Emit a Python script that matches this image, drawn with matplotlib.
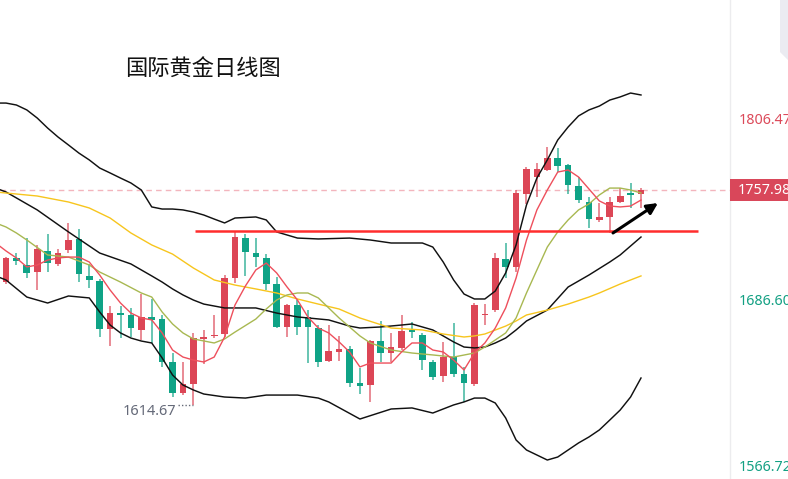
import matplotlib
matplotlib.use("Agg")
import matplotlib.pyplot as plt
from matplotlib.patches import Rectangle, Polygon
import numpy as np

# ---- daily OHLC (gold, USD/oz) ----
opens = [1696.84, 1712.88, 1708.20, 1703.53, 1717.56, 1708.87, 1718.22, 1725.57, 1700.85, 1697.51,
         1665.44, 1676.13, 1674.80, 1664.77, 1673.46, 1672.12, 1643.39, 1622.68, 1628.69, 1659.09,
         1660.76, 1662.10, 1699.52, 1726.24, 1716.22, 1712.88, 1695.51, 1666.78, 1681.48, 1673.46,
         1666.11, 1644.06, 1650.07, 1652.08, 1629.36, 1628.03, 1657.42, 1649.41, 1652.75, 1664.77,
         1661.43, 1643.39, 1634.04, 1646.73, 1635.38, 1628.69, 1674.80, 1678.14, 1712.21, 1706.87,
         1755.64, 1767.00, 1771.68, 1779.69, 1775.02, 1760.99, 1750.30, 1738.27, 1740.27, 1750.30,
         1756.31, 1755.64]
highs = [1713.55, 1716.22, 1726.24, 1721.57, 1728.91, 1718.89, 1736.27, 1732.26, 1708.87, 1698.85,
         1680.81, 1680.81, 1679.47, 1688.83, 1685.49, 1674.80, 1649.41, 1643.39, 1662.77, 1664.77,
         1674.80, 1701.52, 1730.92, 1728.91, 1726.24, 1715.55, 1700.19, 1682.15, 1684.82, 1678.14,
         1668.11, 1668.11, 1660.76, 1654.08, 1639.38, 1658.09, 1670.79, 1662.77, 1674.80, 1670.12,
         1662.77, 1644.73, 1656.76, 1669.45, 1640.05, 1682.81, 1682.15, 1716.22, 1722.90, 1758.31,
         1773.68, 1776.35, 1787.04, 1786.38, 1775.69, 1767.00, 1753.64, 1749.63, 1753.64, 1759.65,
         1762.99, 1759.65]
lows = [1695.51, 1708.20, 1699.52, 1691.50, 1703.53, 1707.53, 1716.22, 1696.84, 1692.84, 1660.10,
        1654.08, 1659.43, 1660.10, 1658.09, 1656.09, 1640.05, 1620.01, 1621.34, 1614.67, 1642.06,
        1659.43, 1660.10, 1696.18, 1700.85, 1706.87, 1691.50, 1666.11, 1660.10, 1661.43, 1642.73,
        1640.05, 1643.39, 1644.06, 1626.69, 1622.01, 1616.67, 1643.39, 1643.39, 1651.41, 1659.43,
        1638.05, 1631.37, 1630.03, 1633.37, 1616.67, 1627.36, 1668.11, 1676.80, 1699.52, 1703.53,
        1748.96, 1753.64, 1771.01, 1770.34, 1755.64, 1749.63, 1732.92, 1736.93, 1729.58, 1749.63,
        1746.29, 1746.29]
closes = [1712.88, 1710.88, 1702.86, 1718.89, 1709.54, 1716.22, 1724.91, 1702.19, 1698.18, 1665.44,
          1676.13, 1674.80, 1666.11, 1673.46, 1671.46, 1643.39, 1622.68, 1628.69, 1659.43, 1659.76,
          1661.43, 1699.52, 1726.91, 1716.89, 1713.55, 1695.51, 1666.78, 1681.48, 1666.78, 1666.78,
          1643.39, 1650.74, 1652.08, 1629.36, 1627.36, 1657.42, 1649.41, 1653.42, 1664.11, 1663.44,
          1644.73, 1633.37, 1646.73, 1635.38, 1629.36, 1681.48, 1675.46, 1712.88, 1706.87, 1756.31,
          1772.34, 1772.34, 1779.69, 1774.35, 1761.65, 1751.63, 1738.94, 1740.27, 1750.30, 1754.30,
          1754.97, 1757.98]

# ---- indicator lines (bar index -> price) ----
boll_up_x = [-1, 0, 1, 2, 3, 4, 5, 6, 7, 8, 9, 10, 11, 12, 13, 14, 15, 16, 17, 18, 19, 20, 21, 22, 24, 25,
             26, 28, 30, 33, 35, 37, 40, 41, 42, 43, 44, 45, 46, 47, 48, 49, 50, 51, 52, 53, 54, 55, 56,
             57, 58, 59, 60, 61]
boll_up_y = [1816.4, 1816.4, 1815.1, 1811.8, 1806.4, 1799.7, 1793.7, 1788.4, 1783.0, 1778.4, 1773.0,
             1769.7, 1766.3, 1763.0, 1758.3, 1747.0, 1745.6, 1745.6, 1745.0, 1743.6, 1741.6, 1738.9,
             1736.3, 1739.6, 1740.3, 1738.3, 1730.3, 1726.2, 1725.6, 1726.2, 1724.9, 1722.9, 1722.9,
             1720.2, 1710.2, 1698.2, 1688.8, 1685.5, 1685.5, 1690.8, 1702.9, 1721.6, 1748.3, 1766.3,
             1778.4, 1791.7, 1800.4, 1807.8, 1811.8, 1814.4, 1818.4, 1820.5, 1823.1, 1821.8]

boll_mid_x = [-1, 0, 2, 3, 6, 9, 12, 14, 15, 16, 17, 18, 19, 20, 21, 24, 26, 28, 31, 33, 34, 36, 38, 39,
              41, 43, 44, 45, 46, 47, 48, 49, 50, 52, 54, 56, 58, 59, 61]
boll_mid_y = [1759.6, 1757.0, 1749.0, 1745.0, 1730.3, 1716.2, 1708.9, 1700.9, 1696.8, 1692.2, 1688.2,
              1684.8, 1682.1, 1680.8, 1679.5, 1679.5, 1676.1, 1673.5, 1671.5, 1667.4, 1666.1, 1666.8,
              1668.1, 1668.8, 1664.8, 1656.8, 1653.4, 1652.8, 1653.4, 1656.1, 1659.4, 1664.8, 1670.8,
              1678.1, 1693.5, 1701.5, 1710.2, 1714.9, 1726.9]

boll_low_x = [-1, 0, 2, 4, 6, 8, 9, 10, 11, 12, 13, 14, 15, 16, 17, 18, 19, 21, 23, 25, 28, 30, 31, 34,
              37, 39, 41, 43, 44, 45, 46, 47, 48, 49, 50, 52, 53, 54, 55, 56, 57, 58, 59, 60, 61]
boll_low_y = [1700.9, 1698.2, 1686.8, 1682.8, 1687.5, 1686.2, 1676.8, 1668.1, 1662.8, 1659.4, 1657.4,
              1656.1, 1646.1, 1634.7, 1628.0, 1624.7, 1622.0, 1620.0, 1619.3, 1621.3, 1621.3, 1619.3,
              1616.7, 1605.3, 1612.0, 1612.7, 1609.3, 1614.7, 1616.7, 1619.3, 1619.3, 1616.0, 1606.0,
              1591.3, 1584.6, 1577.9, 1579.9, 1584.6, 1589.3, 1593.3, 1598.0, 1604.6, 1611.3, 1620.0,
              1632.7]

ma5_x = list(range(-1, 62))
ma5_y = [1722.9, 1717.6, 1712.9, 1706.9, 1708.2, 1711.5, 1712.9, 1713.5, 1713.5, 1710.2, 1701.5,
         1691.5, 1682.8, 1676.1, 1672.8, 1671.5, 1662.8, 1651.4, 1646.7, 1644.7, 1643.4, 1646.7,
         1660.1, 1681.5, 1694.2, 1704.9, 1709.5, 1702.9, 1693.5, 1684.8, 1673.5, 1666.1, 1662.8,
         1656.8, 1650.1, 1640.1, 1642.7, 1642.7, 1642.7, 1650.1, 1656.1, 1656.1, 1651.4, 1650.1,
         1644.7, 1638.1, 1649.4, 1656.1, 1666.1, 1679.5, 1699.5, 1724.9, 1745.0, 1758.3, 1770.3,
         1771.7, 1767.0, 1759.0, 1751.0, 1747.6, 1747.0, 1747.6, 1751.6]

ma10_x = [-1, 0, 1, 2, 4, 6, 8, 9, 11, 13, 14, 15, 16, 17, 18, 20, 21, 22, 24, 25, 26, 27, 28, 29, 30,
          31, 32, 33, 34, 35, 37, 39, 41, 43, 45, 46, 47, 48, 49, 50, 51, 52, 53, 54, 55, 56, 57, 58,
          59, 60, 61]
ma10_y = [1736.3, 1733.6, 1729.6, 1724.9, 1714.9, 1713.5, 1708.2, 1703.5, 1696.8, 1689.5, 1686.8,
          1676.8, 1668.8, 1662.8, 1658.8, 1656.1, 1658.8, 1663.4, 1672.1, 1678.8, 1684.8, 1688.2,
          1689.5, 1689.5, 1686.2, 1679.5, 1672.8, 1666.8, 1660.8, 1656.1, 1651.4, 1649.4, 1648.1,
          1646.7, 1649.4, 1653.4, 1658.1, 1662.8, 1672.8, 1689.5, 1704.9, 1720.2, 1730.3, 1738.3,
          1745.0, 1749.0, 1755.0, 1759.6, 1759.6, 1758.3, 1756.3]

ma30_x = [-1, 0, 3, 6, 8, 10, 12, 14, 16, 18, 20, 22, 24, 26, 28, 30, 32, 34, 37, 40, 42, 44, 45, 46,
          48, 49, 50, 52, 54, 56, 57, 59, 61]
ma30_y = [1757.0, 1756.3, 1754.3, 1750.3, 1746.3, 1739.6, 1729.6, 1721.6, 1715.5, 1706.2, 1698.2,
          1694.8, 1692.2, 1689.5, 1685.5, 1682.1, 1678.8, 1672.8, 1666.1, 1664.8, 1662.1, 1660.1,
          1660.8, 1662.1, 1667.4, 1670.8, 1674.8, 1678.1, 1682.1, 1686.8, 1689.5, 1695.5, 1700.9]

# ---- annotations ----
resistance = 1730.92
resistance_span = (18.16, 66.47)
trend_arrow = ((58.31, 1729.6), (62.63, 1749.6))
period_low = 1614.67
last_close = closes[-1]
axis_marks = [("1806.47", 1806.47, "#dc4a5a", -3), ("1686.60", 1686.60, "#13a083", -4),
              ("1566.72", 1566.72, "#13a083", 9)]

UP = "#dc4656"
DOWN = "#0fa386"

W, H = 788, 479
fig = plt.figure(figsize=(W / 100, H / 100), dpi=100)
fig.patch.set_facecolor("white")
ax = fig.add_axes([0, 0, 730 / W, 1])
ax.set_xlim(-0.576, 69.55)
ax.set_ylim(1565.22, 1885.26)
ax.set_xticks([])
ax.set_yticks([])
for s in ("top", "left", "bottom"):
    ax.spines[s].set_visible(False)
ax.spines["right"].set_color("#ececee")
ax.spines["right"].set_linewidth(1)

idx = np.arange(len(opens))
o = np.array(opens); c = np.array(closes); h = np.array(highs); l = np.array(lows)
up = c >= o
colors = np.where(up, UP, DOWN)

# wicks
ax.vlines(idx, l, h, colors=colors, linewidth=1.1, alpha=0.8, zorder=2)
# bodies
body = np.maximum(np.abs(c - o), 0.9)
ax.bar(idx, body, bottom=np.minimum(o, c), width=0.64, color=colors, linewidth=0, zorder=3)

# Bollinger bands and moving averages
ax.plot(boll_up_x, boll_up_y, color="#111111", lw=1.05, zorder=4)
ax.plot(boll_mid_x, boll_mid_y, color="#111111", lw=1.05, zorder=4)
ax.plot(boll_low_x, boll_low_y, color="#111111", lw=1.05, zorder=4)
ax.plot(ma30_x, ma30_y, color="#f7c51d", lw=1.0, zorder=4)
ax.plot(ma10_x, ma10_y, color="#a8b851", lw=1.0, zorder=4)
ax.plot(ma5_x, ma5_y, color="#ee4f5c", lw=1.0, zorder=5)

# last price line
ax.axhline(last_close, color="#f3b5bd", lw=1.0, ls=(0, (4, 3)), zorder=1)

# resistance line
ax.hlines(resistance, *resistance_span, color="#ff2d2d", lw=1.8, zorder=6)

# trend arrow
ax.annotate("", xy=trend_arrow[1], xytext=trend_arrow[0],
            arrowprops=dict(arrowstyle="-|>", color="black", lw=2.2, mutation_scale=16,
                            shrinkA=0, shrinkB=0), zorder=7)

# period low marker
low_i = int(np.argmin(l))
ax.hlines(period_low, low_i - 1.5, low_i - 0.05, color="#666b78", lw=1.0, ls=(0, (1, 1.5)), zorder=6)
ax.annotate(f"{period_low:.2f}", xy=(low_i - 1.5, period_low), xytext=(-1, -7),
            textcoords="offset pixels", ha="right", va="center", fontsize=10.5,
            color="#656a79", family=["Noto Sans", "DejaVu Sans"])

# title
ax.text(125 / 730, 1 - 69 / H, "国际黄金日线图", transform=ax.transAxes, ha="left", va="center",
        fontsize=16, color="#111111", family=["Noto Sans CJK SC", "DejaVu Sans"])

# right price scale
ytrans = ax.get_yaxis_transform()
for txt, val, col, dy in axis_marks:
    ax.annotate(txt, xy=(1, val), xycoords=ytrans, xytext=(9, dy), textcoords="offset pixels",
                ha="left", va="center", fontsize=10.3, color=col,
                family=["Noto Sans", "DejaVu Sans"], annotation_clip=False)

# last price tag
px = 1.4967
ax.add_patch(Rectangle((1.0, last_close - 11 / px), 60 / 730, 22 / px, transform=ytrans,
                       facecolor="#d9475a", edgecolor="none", clip_on=False, zorder=8))
ax.annotate(f"{last_close:.2f}", xy=(1, last_close), xycoords=ytrans, xytext=(8, 0),
            textcoords="offset pixels", ha="left", va="center", fontsize=10.3, color="white",
            family=["Noto Sans", "DejaVu Sans"], annotation_clip=False, zorder=9)

# toolbar tab in the corner
fig.patches.append(Polygon([(780 / W, 1), (1, 1), (1, 1 - 60 / H), (780 / W, 1 - 52 / H)],
                           closed=True, transform=fig.transFigure, facecolor="#ebebf1",
                           edgecolor="none"))

fig.savefig("out.png", dpi=100, facecolor="white")
